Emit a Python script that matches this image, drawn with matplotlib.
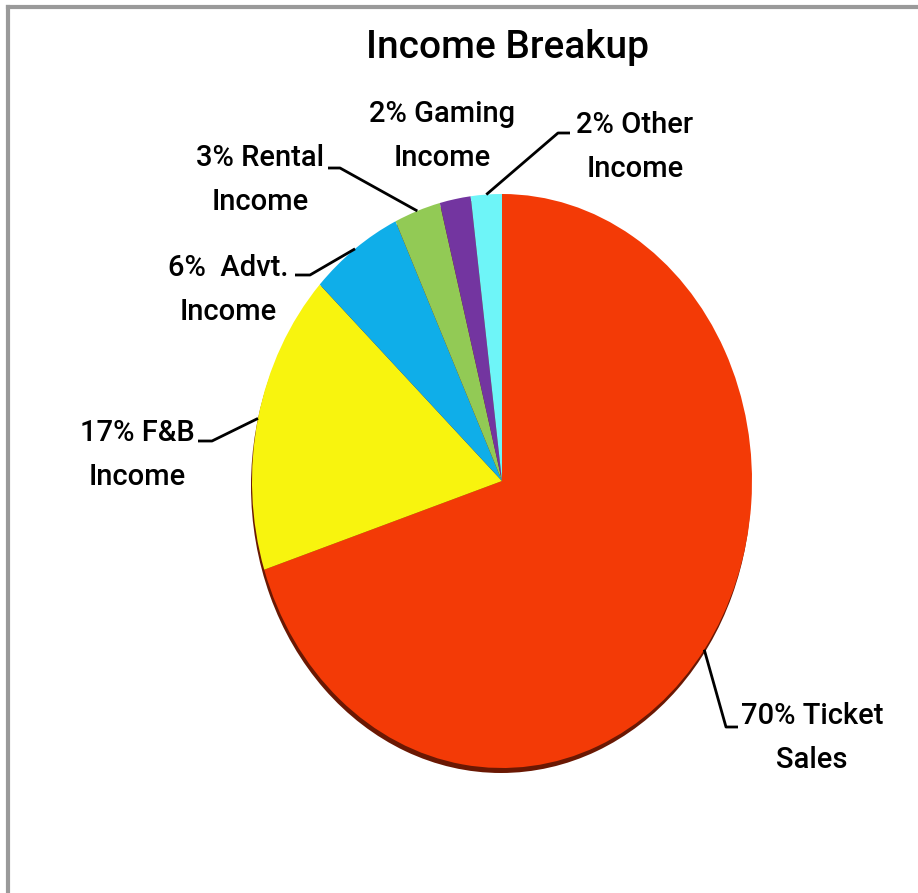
import matplotlib
matplotlib.use("Agg")
import matplotlib.pyplot as plt
from matplotlib import font_manager
from matplotlib.lines import Line2D
import numpy as np

# ---- data ----
categories = ["Ticket Sales", "F&B Income", "Advt. Income", "Rental Income",
              "Gaming Income", "Other Income"]
values = [70, 17, 6, 3, 2, 2]
labels = ["70% Ticket\nSales", "17% F&B\nIncome", "6%  Advt.\nIncome",
          "3% Rental\nIncome", "2% Gaming\nIncome", "2% Other\nIncome"]
colors = ["#F33A06", "#F8F40E", "#0FAEE9", "#92CA55", "#7335A0", "#6EF5F8"]
title = "Income Breakup"

# ---- font ----
avail = {f.name for f in font_manager.fontManager.ttflist}
if "Liberation Sans Narrow" in avail:
    FONT = "Liberation Sans Narrow"; LS = 25; TS = 32; LSP = 1.27; WT = "normal"
else:
    FONT = "Roboto"; LS = 21; TS = 28; LSP = 1.72; WT = "medium"
plt.rcParams["font.family"] = [FONT, "DejaVu Sans"]

W, H = 918, 893
fig = plt.figure(figsize=(W / 100, H / 100), dpi=100, facecolor="white")
ax = fig.add_axes([0, 0, 1, 1])

# pie geometry in pixels (ellipse)
CX, CY = 502, 481      # centre, pixels from top-left
RX, RY = 250, 287      # radii in pixels

def px(x, y):
    return (x - CX) / RX, (CY - y) / RY

# shadow (3D depth)
ax.pie([1], colors=["#6A1803"], radius=1.0, center=(-1 / RX, -5 / RY),
       startangle=90, wedgeprops=dict(linewidth=0))
wedges, _ = ax.pie(values, colors=colors, radius=1.0, center=(0, 0),
                   startangle=90, counterclock=False,
                   wedgeprops=dict(linewidth=0))

ax.set_aspect("auto")
ax.set_xlim(-CX / RX, (W - CX) / RX)
ax.set_ylim(-(H - CY) / RY, CY / RY)
ax.axis("off")

# label layout (pixel positions): text centre, leader elbow, leader end
layout = [
    ((812, 738), [(726, 727), (738, 727)]),
    ((137, 455), [(212, 441), (198, 441)]),
    ((228, 290), [(310, 275), (295, 275)]),
    ((260, 180), [(340, 168), (328, 168)]),
    ((442, 136), None),
    ((635, 147), [(558, 133), (570, 133)]),
]

for w, lab, (tpos, path) in zip(wedges, labels, layout):
    tx, ty = px(*tpos)
    ax.text(tx, ty, lab, ha="center", va="center", fontsize=LS, fontweight=WT,
            color="black", linespacing=LSP, multialignment="center")
    if path is not None:
        mid = np.deg2rad((w.theta1 + w.theta2) / 2)
        pts = [(np.cos(mid), np.sin(mid))] + [px(*p) for p in path]
        xs, ys = zip(*pts)
        ax.plot(xs, ys, color="black", lw=2, solid_capstyle="butt")

tx, ty = px(507, 47)
ax.text(tx, ty, title, ha="center", va="center", fontsize=TS, fontweight=WT,
        color="black")

# chart-area border (top and left visible)
fig.add_artist(Line2D([8 / W, 8 / W], [0, 1 - 7 / H], transform=fig.transFigure,
                      color="#9A9A9A", lw=3))
fig.add_artist(Line2D([8 / W, 1], [1 - 7 / H, 1 - 7 / H], transform=fig.transFigure,
                      color="#9A9A9A", lw=3))

fig.savefig("out.png", dpi=100, facecolor="white")
